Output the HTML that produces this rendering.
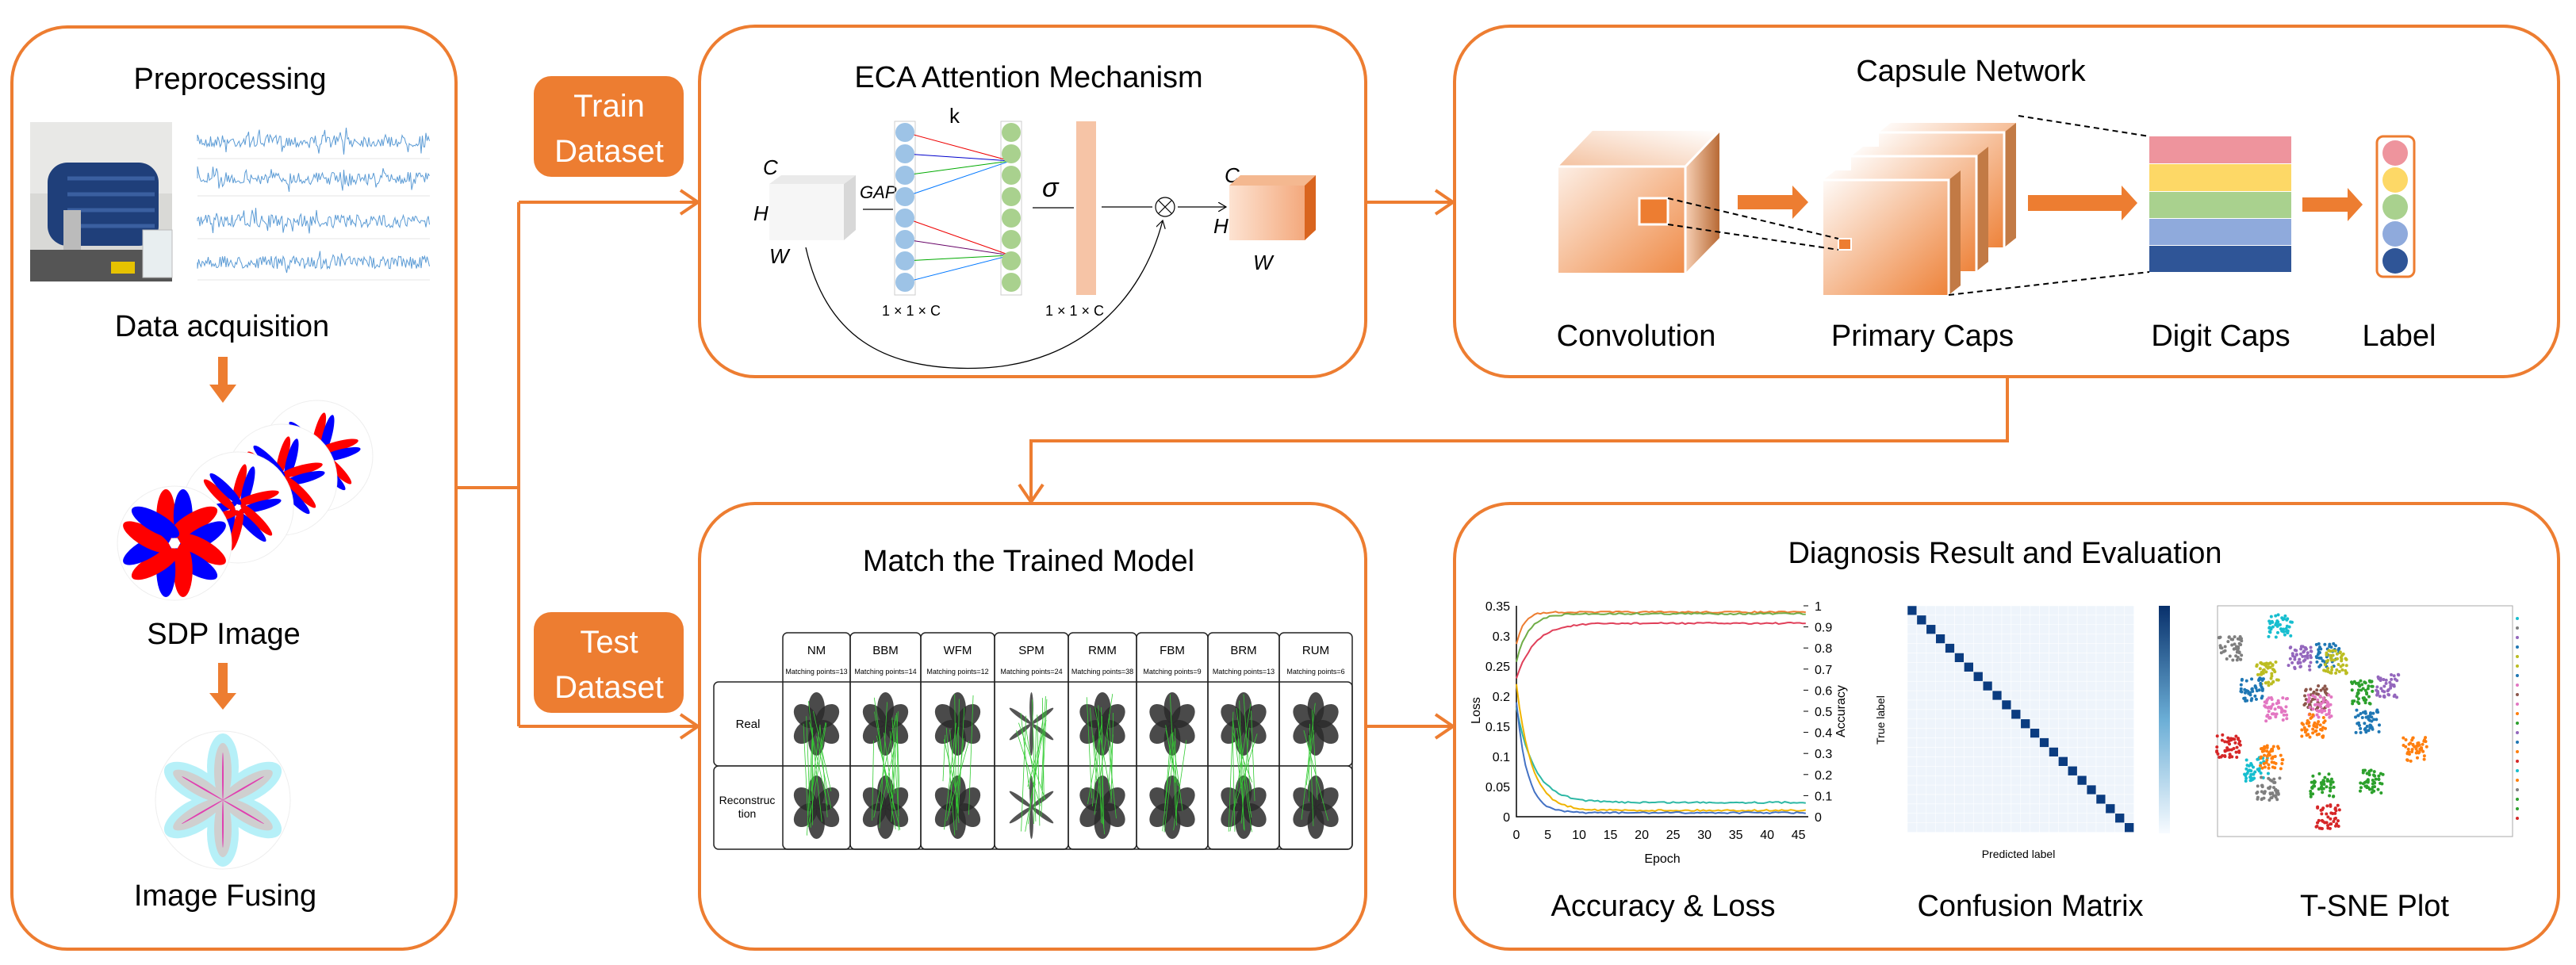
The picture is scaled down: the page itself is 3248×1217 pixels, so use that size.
<!DOCTYPE html>
<html><head><meta charset="utf-8">
<style>
html,body{margin:0;padding:0;background:#fff;}
svg{display:block;}
text{font-family:"Liberation Sans",sans-serif;}
.t{font-size:38px;fill:#000;text-anchor:middle;}
.s{font-family:"Liberation Serif",serif;font-style:italic;}
</style></head>
<body>
<svg id="sv" width="3248" height="1217" viewBox="0 0 3248 1217" xmlns="http://www.w3.org/2000/svg">
<defs>
<linearGradient id="og" x1="0" y1="0" x2="1" y2="1"><stop offset="0" stop-color="#fff"/><stop offset="1" stop-color="#ED7D31"/></linearGradient>
<linearGradient id="og2" x1="0" y1="0" x2="1" y2="0"><stop offset="0" stop-color="#f7d0b5"/><stop offset="1" stop-color="#b86a35"/></linearGradient>
<linearGradient id="og3" x1="0" y1="1" x2="1" y2="0"><stop offset="0" stop-color="#f4c2a0"/><stop offset="1" stop-color="#fff"/></linearGradient>
<linearGradient id="cb" x1="0" y1="1" x2="0" y2="0"><stop offset="0" stop-color="#f7fbff"/><stop offset="0.5" stop-color="#6baed6"/><stop offset="1" stop-color="#08306b"/></linearGradient>
<linearGradient id="eo" x1="0" y1="0" x2="1" y2="0"><stop offset="0" stop-color="#fde3d2"/><stop offset="1" stop-color="#f2a070"/></linearGradient>
<marker id="ar" markerWidth="12" markerHeight="12" refX="10" refY="6" orient="auto" markerUnits="userSpaceOnUse" viewBox="0 0 12 12"><path d="M0,0 L10,6 L0,12" fill="none" stroke="#000" stroke-width="1.2"/></marker>
</defs>
<g fill="none" stroke="#ED7D31" stroke-width="4">
<rect x="15" y="34" width="560" height="1163" rx="70"/>
<rect x="882" y="33" width="840" height="442" rx="70"/>
<rect x="1834" y="33" width="1392" height="442" rx="70"/>
<rect x="882" y="635" width="840" height="562" rx="70"/>
<rect x="1834" y="635" width="1392" height="562" rx="70"/>
<path d="M575,615 H654 M654,255 V916 M654,255 H880 M654,916 H880 M1722,255 H1832 M1722,916 H1832 M2531,475 V556 H1300 V633"/>
<path d="M858,240 L880,255 L858,270 M858,901 L880,916 L858,931 M1810,240 L1832,255 L1810,270 M1810,901 L1832,916 L1810,931 M1285,611 L1300,633 L1315,611"/>
</g>
<rect x="673" y="96" width="189" height="127" rx="22" fill="#ED7D31"/>
<rect x="673" y="772" width="189" height="127" rx="22" fill="#ED7D31"/>
<g fill="#fff" font-size="40" text-anchor="middle"><text x="768" y="147">Train</text><text x="768" y="204">Dataset</text><text x="768" y="823">Test</text><text x="768" y="880">Dataset</text></g>

<text class="t" x="290" y="112">Preprocessing</text>
<rect x="38" y="154" width="179" height="201" fill="#d9d9d6"/>
<rect x="38" y="154" width="179" height="90" fill="#e8e8e6"/>
<rect x="60" y="205" width="140" height="105" rx="25" fill="#1f3f7a"/>
<g stroke="#3a5fa0" stroke-width="5"><line x1="85" y1="225" x2="195" y2="225"/><line x1="85" y1="245" x2="195" y2="245"/><line x1="85" y1="265" x2="195" y2="265"/><line x1="85" y1="285" x2="195" y2="285"/></g>
<rect x="80" y="265" width="22" height="75" fill="#bbb"/>
<rect x="38" y="315" width="179" height="40" fill="#555"/>
<rect x="140" y="330" width="30" height="15" fill="#e6c200"/>
<rect x="180" y="290" width="37" height="60" fill="#e8eef0" stroke="#bbb"/>
<g id="sig"></g>
<text class="t" x="280" y="424">Data acquisition</text>
<path d="M275,450 h12 v35 h11 l-17,23 l-17,-23 h11z" fill="#ED7D31"/>
<g id="sdp"></g>
<text class="t" x="282" y="812">SDP Image</text>
<path d="M275,836 h12 v38 h11 l-17,21 l-17,-21 h11z" fill="#ED7D31"/>
<g id="fuse"></g>
<text class="t" x="284" y="1142">Image Fusing</text>

<text class="t" x="1297" y="110">ECA Attention Mechanism</text>
<g id="eca">
<rect x="970" y="232" width="94" height="71" fill="#f6f6f6"/>
<path d="M1064,232 L1079,221 L1079,290 L1064,303Z" fill="#d8d8d8"/>
<path d="M970,232 L985,221 L1079,221 L1064,232Z" fill="#eaeaea"/>
<g class="s" font-size="26"><text x="962" y="220">C</text><text x="950" y="278">H</text><text x="970" y="332">W</text><text x="1084" y="250" font-size="22">GAP</text>
<text x="1544" y="230">C</text><text x="1530" y="294">H</text><text x="1580" y="340">W</text></g>
<text x="1197" y="155" font-family="Liberation Serif" font-size="26">k</text>
<text x="1314" y="248" font-family="Liberation Serif" font-size="34" font-style="italic">σ</text>
<text x="1112" y="398" font-family="Liberation Serif" font-size="18">1 × 1 × C</text>
<text x="1318" y="398" font-family="Liberation Serif" font-size="18">1 × 1 × C</text>
<rect x="1357" y="153" width="25" height="219" fill="#f6c4a6"/>
<path d="M1088,264 H1126 M1302,262 H1354 M1389,261 H1453 M1485,261 H1546" stroke="#000" stroke-width="1.2" marker-end="url(#ar)"/>
<circle cx="1469" cy="261" r="12" fill="#fff" stroke="#000" stroke-width="1.2"/>
<path d="M1461,253 L1477,269 M1477,253 L1461,269" stroke="#000" stroke-width="1.2"/>
<path d="M1016,312 C1040,420 1110,470 1240,464 C1360,458 1440,380 1466,278" fill="none" stroke="#000" stroke-width="1.3" marker-end="url(#ar)"/>
<path d="M1550,234 L1564,221 L1659,221 L1659,290 L1645,303 L1550,303Z" fill="url(#eo)"/>
<path d="M1645,234 L1659,221 L1659,290 L1645,303Z" fill="#d9641e"/>
<path d="M1550,234 L1564,221 L1659,221 L1645,234Z" fill="#f4b890"/>
</g>

<text class="t" x="2485" y="102">Capsule Network</text>
<path d="M1965,210 L2008,165 L2168,165 L2168,300 L2125,344 L1965,344Z" fill="url(#og)"/>
<path d="M2125,210 L2168,165 L2168,300 L2125,344Z" fill="url(#og2)"/>
<path d="M1965,210 L2008,165 L2168,165 L2125,210Z" fill="url(#og3)"/>
<path d="M1965,210 H2125 V344 M2125,210 L2168,165" stroke="#fff" stroke-width="3" fill="none"/>
<rect x="2067" y="250" width="36" height="33" fill="#ED7D31" stroke="#fff" stroke-width="3"/>
<g id="pc"></g>
<rect x="2318" y="301" width="16" height="14" fill="#ED7D31" stroke="#fff" stroke-width="2"/>
<g stroke="#000" stroke-width="2" stroke-dasharray="7,5" fill="none">
<path d="M2103,250 L2318,301 M2103,283 L2318,315 M2545,146 L2710,172 M2457,372 L2710,343"/></g>
<path d="M2191,246 H2260 V234 L2280,255 L2260,276 V264 H2191Z" fill="#ED7D31"/>
<path d="M2557,246 H2675 V234 L2695,256 L2675,278 V266 H2557Z" fill="#ED7D31"/>
<path d="M2903,249 H2960 V237 L2979,258 L2960,279 V267 H2903Z" fill="#ED7D31"/>
<rect x="2710" y="172" width="179" height="34" fill="#EE949D"/>
<rect x="2710" y="207" width="179" height="34" fill="#FDD866"/>
<rect x="2710" y="242" width="179" height="33" fill="#A9D18E"/>
<rect x="2710" y="276" width="179" height="33" fill="#8FAADC"/>
<rect x="2710" y="310" width="179" height="33" fill="#2F5597"/>
<rect x="2997" y="172" width="47" height="177" rx="8" fill="#fff" stroke="#ED7D31" stroke-width="3"/>
<circle cx="3020" cy="193" r="16" fill="#EE949D"/><circle cx="3020" cy="227" r="16" fill="#FDD866"/><circle cx="3020" cy="261" r="16" fill="#A9D18E"/><circle cx="3020" cy="295" r="16" fill="#8FAADC"/><circle cx="3020" cy="329" r="16" fill="#2F5597"/>
<text class="t" x="2063" y="436">Convolution</text><text class="t" x="2424" y="436">Primary Caps</text><text class="t" x="2800" y="436">Digit Caps</text><text class="t" x="3025" y="436">Label</text>

<text class="t" x="1297" y="720">Match the Trained Model</text>
<g id="tbl"></g>

<text class="t" x="2528" y="710">Diagnosis Result and Evaluation</text>
<g id="acc"></g>
<g id="cm"></g>
<g id="ts"></g>
<text class="t" x="2097" y="1155">Accuracy &amp; Loss</text>
<text class="t" x="2560" y="1155">Confusion Matrix</text>
<text class="t" x="2994" y="1155">T-SNE Plot</text>
</svg>
<script>
var NS="http://www.w3.org/2000/svg";
function el(p,t,a){var e=document.createElementNS(NS,t);for(var k in a)e.setAttribute(k,a[k]);p.appendChild(e);return e;}
var seed=7;function rnd(){seed=(seed*16807)%2147483647;return seed/2147483647;}
function g(id){return document.getElementById(id);}
var sg=g("sig");
[178,225,279,331].forEach(function(y){var d="M249,"+y;for(var x=249;x<=542;x+=1.5){var a=(rnd()-0.5)*(rnd()<0.1?34:16);d+=" L"+x+","+(y+a).toFixed(1);}el(sg,"path",{d:d,stroke:"#5b9bd5","stroke-width":"1",fill:"none"});el(sg,"line",{x1:249,x2:542,y1:y+22,y2:y+22,stroke:"#e6e6e6"});});
function flower(p,cx,cy,R,w,cols,rot,sx,sy,op){for(var i=0;i<6;i++){var a=rot+i*60;for(var j=0;j<cols.length;j++){var off=(j-(cols.length-1)/2)*w*0.9;el(p,"ellipse",{cx:0,cy:-R/2,rx:w/2,ry:R/2,fill:cols[j],opacity:op||1,transform:"translate("+cx+","+cy+") scale("+(sx||1)+","+(sy||1)+") rotate("+a+") translate("+off+",0)"});}}}
var sd=g("sdp");
[[400,575,0.55],[355,605,0.65],[300,640,0.75]].forEach(function(c){el(sd,"circle",{cx:c[0],cy:c[1],r:70,fill:"#fff",stroke:"#eee"});var gg=el(sd,"g",{});flower(gg,c[0],c[1],55,12,["#f00","#00f"],15,1,1);});
el(sd,"circle",{cx:220,cy:685,r:72,fill:"#fff",stroke:"#eee"});
flower(sd,220,685,68,24,["#f00","#00f"],0,1,1);
var fu=g("fuse");
el(fu,"ellipse",{cx:281,cy:1009,rx:85,ry:87,fill:"#fff",stroke:"#eee"});
flower(fu,281,1009,84,40,["#b6f0f8"],0,1,1);
flower(fu,281,1009,72,22,["#cfcfcf"],0,1,1);
flower(fu,281,1009,60,2,["#e040b0"],0,1,1);
var pc=g("pc");
for(var i=2;i>=0;i--){var dx=i*35,dy=-i*30;var x0=2299+dx,y0=227+dy;
el(pc,"path",{d:"M"+x0+","+y0+" L"+(x0+15)+","+(y0-12)+" L"+(x0+173)+","+(y0-12)+" L"+(x0+173)+","+(y0+133)+" L"+(x0+158)+","+(y0+145)+" L"+x0+","+(y0+145)+"Z",fill:"url(#og)"});
el(pc,"path",{d:"M"+(x0+158)+","+y0+" L"+(x0+173)+","+(y0-12)+" L"+(x0+173)+","+(y0+133)+" L"+(x0+158)+","+(y0+145)+"Z",fill:"#c27a45"});
el(pc,"path",{d:"M"+x0+","+y0+" H"+(x0+158)+" V"+(y0+145),stroke:"#fff","stroke-width":3,fill:"none"});}
var ec=g("eca");
el(ec,"rect",{x:1128,y:153,width:26,height:219,fill:"none",stroke:"#ccc"});
el(ec,"rect",{x:1262,y:153,width:26,height:219,fill:"none",stroke:"#ccc"});
var ys=[];for(var i=0;i<8;i++)ys.push(167+i*27);
var lc=["#e00","#00c","#0a0","#07f","#e00","#606","#0a0","#07f"];
for(var i=0;i<8;i++){var tgt=i<4?203:322;el(ec,"line",{x1:1141,y1:ys[i],x2:1274,y2:tgt,stroke:lc[i],"stroke-width":1});}
ys.forEach(function(y){el(ec,"ellipse",{cx:1141,cy:y,rx:12,ry:12,fill:"#9dc3e6"});el(ec,"ellipse",{cx:1275,cy:y,rx:12,ry:12,fill:"#a9d18e"});});
var tb=g("tbl");var xs=[987,1072,1161,1254,1347,1433,1523,1613,1705];
var nm=["NM","BBM","WFM","SPM","RMM","FBM","BRM","RUM"],mp=[13,14,12,24,38,9,13,6];
el(tb,"rect",{x:900,y:860,width:805,height:106,rx:6,fill:"#fff",stroke:"#222","stroke-width":1.5});
el(tb,"rect",{x:900,y:966,width:805,height:105,rx:6,fill:"#fff",stroke:"#222","stroke-width":1.5});
for(var i=0;i<8;i++){var x0=xs[i],x1=xs[i+1],cx=(x0+x1)/2;
el(tb,"rect",{x:x0,y:798,width:x1-x0,height:273,rx:6,fill:"none",stroke:"#222","stroke-width":1.5});
el(tb,"text",{x:cx,y:825,"font-size":"15","text-anchor":"middle"}).textContent=nm[i];
el(tb,"text",{x:cx,y:850,"font-size":"9","text-anchor":"middle"}).textContent="Matching points="+mp[i];
[913,1018].forEach(function(cy){var gg=el(tb,"g",{});var sp=i==3;flower(gg,cx,cy,40,sp?6:26,[sp?"#555":"#2a2a2a"],0,0.8,1,sp?1:0.85);});
for(var k=0;k<Math.min(mp[i],14);k++){var a=cx+(rnd()-0.5)*40,b=cx+(rnd()-0.5)*40;el(tb,"line",{x1:a,y1:875+rnd()*60,x2:b,y2:985+rnd()*70,stroke:"#3c3","stroke-width":0.8});}}
el(tb,"text",{x:943,y:918,"font-size":"15","text-anchor":"middle"}).textContent="Real";
el(tb,"text",{x:942,y:1014,"font-size":"14","text-anchor":"middle"}).textContent="Reconstruc";
el(tb,"text",{x:942,y:1031,"font-size":"14","text-anchor":"middle"}).textContent="tion";
var ac=g("acc");var X0=1912,X1=2280,Y0=764,Y1=1030;
el(ac,"path",{d:"M"+X0+","+Y0+" V"+Y1+" H"+X1,stroke:"#000",fill:"none","stroke-width":1.5});
for(var i=0;i<=7;i++){var y=Y1-(Y1-Y0)*i/7;var t=el(ac,"text",{x:X0-8,y:y+6,"font-size":"16","text-anchor":"end","font-family":"Liberation Serif"});t.textContent=(i==0?"0":(i*0.05).toFixed(2).replace(/0$/,""));}
for(var i=0;i<=10;i++){var y=Y1-(Y1-Y0)*i/10;el(ac,"line",{x1:X1-6,x2:X1,y1:y,y2:y,stroke:"#000"});var t=el(ac,"text",{x:X1+8,y:y+6,"font-size":"16","font-family":"Liberation Serif"});t.textContent=i==0?"0":i==10?"1":(i/10).toFixed(1);}
for(var i=0;i<=9;i++){var x=X0+i*7.6*5.2;var t=el(ac,"text",{x:x,y:1058,"font-size":"16","text-anchor":"middle","font-family":"Liberation Serif"});t.textContent=i*5;}
el(ac,"text",{x:2096,y:1088,"font-size":"16","text-anchor":"middle","font-family":"Liberation Serif"}).textContent="Epoch";
el(ac,"text",{x:1866,y:896,"font-size":"16","text-anchor":"middle","font-family":"Liberation Serif",transform:"rotate(-90 1866 896)"}).textContent="Loss";
el(ac,"text",{x:2326,y:897,"font-size":"16","text-anchor":"middle","font-family":"Liberation Serif",transform:"rotate(-90 2326 897)"}).textContent="Accuracy";
function curve(f,col){var d="";for(var e=0;e<=48;e+=0.5){var x=X0+e*7.6;var y=f(e)+(rnd()-0.5)*2;d+=(d?"L":"M")+x.toFixed(1)+","+y.toFixed(1)+" ";}el(ac,"path",{d:d,stroke:col,fill:"none","stroke-width":2});}
curve(function(e){return Y0+8+40*Math.exp(-e/1.2);},"#ED7D31");
curve(function(e){return Y0+10+60*Math.exp(-e/2);},"#70AD47");
curve(function(e){return Y0+22+70*Math.exp(-e/3);},"#E0405A");
curve(function(e){return Y1-18-120*Math.exp(-e/3);},"#2EB8A5");
curve(function(e){return Y1-8-160*Math.exp(-e/2.5);},"#F0B400");
curve(function(e){return Y1-5-140*Math.exp(-e/1.8);},"#4472C4");
var cm=g("cm");var cx0=2405,cy0=764,cs=11.9;
for(var r=0;r<24;r++)for(var c=0;c<24;c++){el(cm,"rect",{x:cx0+c*cs,y:cy0+r*cs,width:cs,height:cs,fill:r==c?"#0b3c80":"#eef4fb",stroke:"#fff","stroke-width":0.5});}
el(cm,"rect",{x:2722,y:764,width:14,height:287,fill:"url(#cb)"});
el(cm,"text",{x:2545,y:1082,"font-size":"14","text-anchor":"middle"}).textContent="Predicted label";
el(cm,"text",{x:2376,y:908,"font-size":"14","text-anchor":"middle",transform:"rotate(-90 2376 908)"}).textContent="True label";
var ts=g("ts");el(ts,"rect",{x:2796,y:764,width:372,height:291,fill:"#fff",stroke:"#aaa"});
var cl=[["#17becf",2875,790],["#7f7f7f",2812,818],["#9467bd",2900,830],["#1f77b4",2935,826],["#bcbd22",2945,835],["#bcbd22",2858,850],["#1f77b4",2840,870],["#e377c2",2870,895],["#8c564b",2920,880],["#e377c2",2925,890],["#ff7f0e",2917,915],["#2ca02c",2978,873],["#9467bd",3010,865],["#1f77b4",2985,910],["#ff7f0e",3045,945],["#d62728",2810,940],["#17becf",2845,970],["#ff7f0e",2865,955],["#7f7f7f",2860,995],["#2ca02c",2928,990],["#2ca02c",2990,985],["#d62728",2935,1030]];
cl.forEach(function(c){for(var k=0;k<45;k++){el(ts,"circle",{cx:c[1]+(rnd()-0.5)*30,cy:c[2]+(rnd()-0.5)*30,r:2,fill:c[0]});}});
for(var i=0;i<22;i++){el(ts,"circle",{cx:3174,cy:780+i*12,r:2,fill:cl[i][0]});}
</script>
</body></html>
